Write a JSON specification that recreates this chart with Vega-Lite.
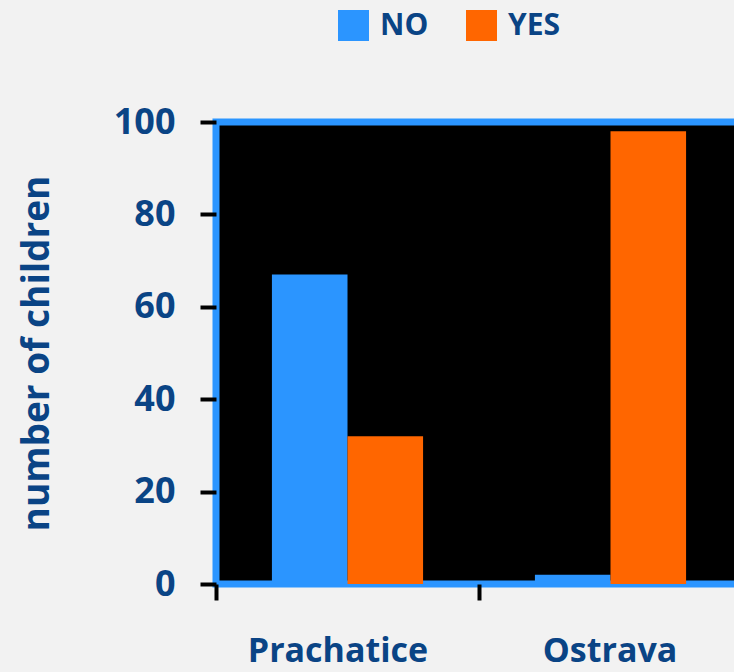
{
  "$schema": "https://vega.github.io/schema/vega-lite/v6.json",
  "autosize": {"type": "none"},
  "width": 526,
  "height": 462,
  "padding": {"left": 216, "top": 122, "right": 0, "bottom": 88},
  "background": "#f2f2f2",
  "config": {
    "view": {"fill": "#000000", "stroke": "#2b95ff", "strokeWidth": 7},
    "font": "Open Sans"
  },
  "data": {
    "values": [
      {"city": "Prachatice", "answer": "NO", "children": 67},
      {"city": "Prachatice", "answer": "YES", "children": 32},
      {"city": "Ostrava", "answer": "NO", "children": 2},
      {"city": "Ostrava", "answer": "YES", "children": 98}
    ]
  },
  "mark": {"type": "bar"},
  "encoding": {
    "x": {
      "field": "city",
      "type": "nominal",
      "sort": ["Prachatice", "Ostrava"],
      "scale": {"paddingInner": 0, "paddingOuter": 0},
      "axis": {
        "title": null,
        "labelAngle": 0,
        "labelLimit": 0,
        "labelFont": "Open Sans",
        "labelFontSize": 34,
        "labelFontWeight": "bold",
        "labelColor": "#0a4485",
        "labelPadding": 34,
        "labelOffset": {"condition": {"test": "datum.value == 'Prachatice'", "value": -10}, "value": -1},
        "tickBand": "extent",
        "tickColor": "#000000",
        "tickWidth": 4,
        "tickSize": 16,
        "domain": false
      }
    },
    "xOffset": {
      "field": "answer",
      "type": "nominal",
      "scale": {"paddingInner": 0, "paddingOuter": 0.74}
    },
    "y": {
      "field": "children",
      "type": "quantitative",
      "scale": {"domain": [0, 100]},
      "axis": {
        "values": [0, 20, 40, 60, 80, 100],
        "title": "number of children",
        "titleFont": "Open Sans",
        "titleFontSize": 37,
        "titleFontWeight": "bold",
        "titleColor": "#0a4485",
        "titleAngle": -90,
        "titleAlign": "center",
        "titleBaseline": "alphabetic",
        "titleX": -168,
        "titleY": 231,
        "labelFont": "Open Sans",
        "labelFontSize": 36,
        "labelFontWeight": "bold",
        "labelColor": "#0a4485",
        "labelPadding": 25,
        "tickColor": "#000000",
        "tickWidth": 4,
        "tickSize": 16,
        "domain": false,
        "grid": false
      }
    },
    "color": {
      "field": "answer",
      "type": "nominal",
      "scale": {"domain": ["NO", "YES"], "range": ["#2b95ff", "#ff6600"]},
      "legend": {
        "title": null,
        "orient": "none",
        "direction": "horizontal",
        "legendX": 122,
        "legendY": -112,
        "symbolType": "square",
        "symbolSize": 961,
        "symbolStrokeWidth": 0,
        "symbolOpacity": 1,
        "labelFont": "Open Sans",
        "labelFontSize": 30,
        "labelFontWeight": "bold",
        "labelColor": "#0a4485",
        "labelOffset": 11,
        "columnPadding": 37,
        "labelExpr": "datum.label == 'YES' ? '\u2003YES' : datum.label"
      }
    }
  }
}
